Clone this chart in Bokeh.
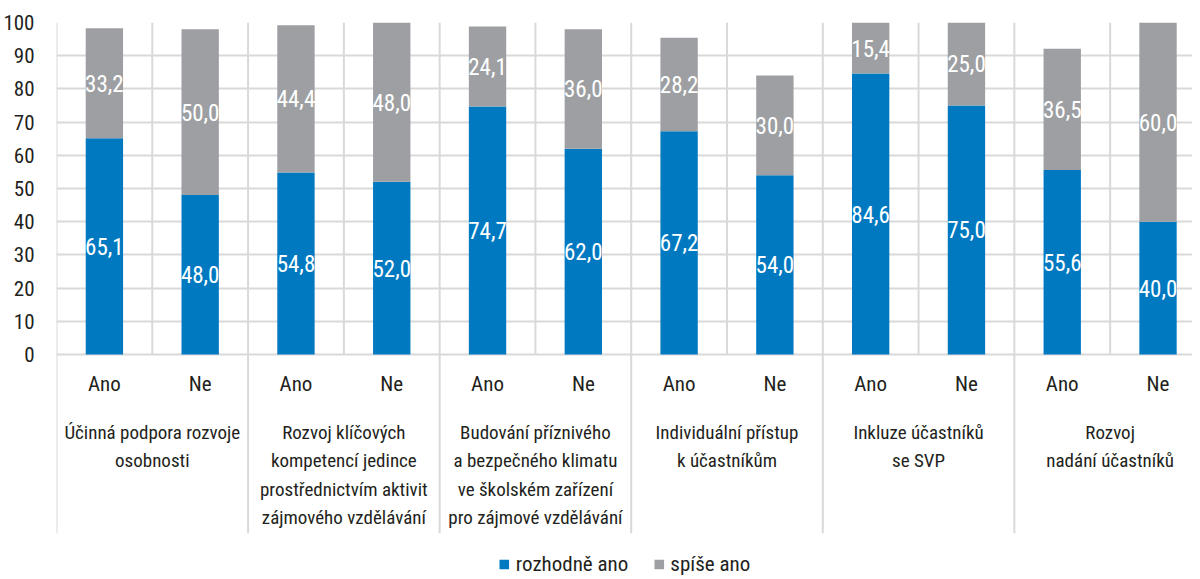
from bokeh.plotting import figure
from bokeh.models import ColumnDataSource, FixedTicker, Legend, LegendItem, Range1d
from bokeh.core.properties import value
from bokeh.embed import file_html
from bokeh.resources import INLINE

# ---- data ----
groups = [
    "Účinná podpora rozvoje\nosobnosti",
    "Rozvoj klíčových\nkompetencí jedince\nprostřednictvím aktivit\nzájmového vzdělávání",
    "Budování příznivého\na bezpečného klimatu\nve školském zařízení\npro zájmové vzdělávání",
    "Individuální přístup\nk účastníkům",
    "Inkluze účastníků\nse SVP",
    "Rozvoj\nnadání účastníků",
]
answers = ["Ano", "Ne"]
rozhodne_ano = [65.1, 48.0, 54.8, 52.0, 74.7, 62.0, 67.2, 54.0, 84.6, 75.0, 55.6, 40.0]
spise_ano = [33.2, 50.0, 44.4, 48.0, 24.1, 36.0, 28.2, 30.0, 15.4, 25.0, 36.5, 60.0]
series_names = ["rozhodně ano", "spíše ano"]
y_ticks = [0, 10, 20, 30, 40, 50, 60, 70, 80, 90, 100]

# ---- style ----
BLUE = "#0079c1"
GREY = "#9d9fa2"
GRID = "#d9d9d9"
TXT = "#231f20"
FONT = "Roboto Condensed"

n_bars = len(rozhodne_ano)
xs = [i + 0.5 for i in range(n_bars)]
ans_lab = [answers[i % len(answers)] for i in range(n_bars)]

def fmt(v):
    return f"{v:.1f}".replace(".", ",")

src = ColumnDataSource(dict(
    x=xs,
    r=rozhodne_ano,
    s=spise_ano,
    r_mid=[v / 2 for v in rozhodne_ano],
    s_mid=[a + b / 2 for a, b in zip(rozhodne_ano, spise_ano)],
    r_lab=[fmt(v) for v in rozhodne_ano],
    s_lab=[fmt(v) for v in spise_ano],
    ans=ans_lab,
))

Y_MIN = -66.9
SEP_MIN = -53.9
X_MAX = 11.86

p = figure(width=1192, height=576, output_backend="svg", toolbar_location=None,
           x_range=Range1d(0, X_MAX), y_range=Range1d(Y_MIN, 100),
           min_border_left=51, min_border_right=0, min_border_top=22, min_border_bottom=0)
p.outline_line_color = None
p.background_fill_color = "white"
p.border_fill_color = "white"

# horizontal grid
p.xgrid.visible = False
p.ygrid.ticker = FixedTicker(ticks=y_ticks)
p.ygrid.grid_line_color = GRID
p.ygrid.grid_line_width = 2

# vertical separators
bounds = list(range(n_bars + 1))
sep = ColumnDataSource(dict(
    x=bounds,
    y0=[SEP_MIN if b % len(answers) == 0 else 0 for b in bounds],
    y1=[100] * len(bounds),
))
p.segment(x0="x", x1="x", y0="y0", y1="y1", source=sep, line_color=GRID, line_width=2)

# bars
rs = p.vbar_stack(["r", "s"], x="x", width=0.39, color=[BLUE, GREY], line_color=None, source=src)

# value labels
for col, ycol in (("r_lab", "r_mid"), ("s_lab", "s_mid")):
    p.text(x="x", y=ycol, text=col, source=src, text_color="white",
           text_font=value(FONT), text_font_size="23px",
           text_align="center", text_baseline="middle")

# Ano / Ne labels
p.text(x="x", y=-9, text="ans", source=src, text_color=TXT,
       text_font=value(FONT), text_font_size="21px",
       text_align="center", text_baseline="middle")

# group labels
gsrc = ColumnDataSource(dict(
    x=[i * len(answers) + len(answers) / 2 for i in range(len(groups))],
    t=groups,
))
p.text(x="x", y=-20.0, text="t", source=gsrc, text_color=TXT,
       text_font=value(FONT), text_font_size="19px", text_line_height=1.24,
       text_align="center", text_baseline="top")

# axes
p.xaxis.visible = False
yax = p.yaxis[0]
yax.ticker = FixedTicker(ticks=y_ticks)
yax.axis_line_color = None
yax.major_tick_line_color = None
yax.minor_tick_line_color = None
yax.major_tick_in = 0
yax.major_tick_out = 0
yax.major_label_standoff = 22
yax.major_label_text_font = FONT
yax.major_label_text_font_size = "21px"
yax.major_label_text_color = TXT

legend = Legend(items=[LegendItem(label=series_names[i], renderers=[rs[i]]) for i in range(2)],
                orientation="horizontal", location="bottom_center",
                label_text_font=FONT, label_text_font_size="21px", label_text_color=TXT,
                glyph_width=12, glyph_height=12, label_height=12, spacing=24, padding=0, margin=0,
                label_standoff=6, border_line_color=None, background_fill_alpha=0)
p.add_layout(legend, "center")

open("out.html", "w").write(file_html(p, INLINE))
